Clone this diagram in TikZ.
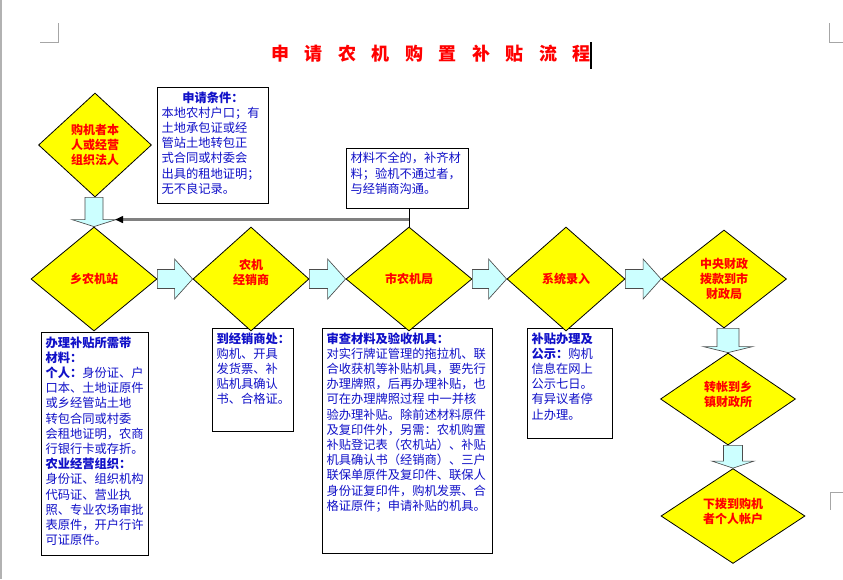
\documentclass[tikz,border=0pt]{standalone}
\usepackage{fontspec}
\setmainfont{Noto Sans CJK SC}
\usetikzlibrary{shapes.geometric,calc,arrows.meta}
\definecolor{dyellow}{HTML}{FFFF00}
\definecolor{acyan}{HTML}{CCFFFF}
\definecolor{tblue}{HTML}{1010C8}
\definecolor{tred}{HTML}{FF0000}
\newcommand\bx[3]{\parbox[c][#2][t]{#1}{\fontsize{9.2pt}{11.4pt}\selectfont\raggedright #3}}
\newcommand\ctr[1]{\makebox[\linewidth]{#1}}
\newcommand\harr[2]{%
  \draw[blk] let \p1=(#1.east), \p2=(#2.west) in
    (\x1,{\y1+7.1pt}) -- ({\x2-13.5pt},{\y1+7.1pt}) -- ({\x2-13.5pt},{\y1+15pt})
    -- (\x2,\y1) -- ({\x2-13.5pt},{\y1-15pt}) -- ({\x2-13.5pt},{\y1-7.1pt})
    -- (\x1,{\y1-7.1pt}) -- cycle;}
\newcommand\varr[5]{%
  \draw[blk] let \p1=(#1.south), \p2=(#2.north) in
    ({\x2-#3},\y1) -- ({\x2-#3},{\y2+#5}) -- ({\x2-#4},{\y2+#5}) -- (\x2,\y2)
    -- ({\x2+#4},{\y2+#5}) -- ({\x2+#3},{\y2+#5}) -- ({\x2+#3},\y1) -- cycle;}
\begin{document}
\begin{tikzpicture}[x=0.75pt,y=-0.75pt,
  dia/.style={diamond, draw=black, line width=0.6pt, fill=dyellow, inner sep=0pt,
    text=tred, font=\fontsize{9pt}{11.25pt}\selectfont\bfseries, align=center},
  tbox/.style={draw=black, line width=0.75pt, fill=white, inner xsep=3pt, inner ysep=3pt,
    text=tblue, anchor=north west},
  blk/.style={draw=black!70, fill=acyan, line width=0.5pt},
  fb/.style={draw=gray, line width=1.9pt, -{Triangle[length=6pt,width=5pt,color=black]}},
  cornermark/.style={draw=gray!70, line width=0.6pt}]
\useasboundingbox[fill=white] (0,0) rectangle (843,579);
% page marks
\draw[gray!60, line width=1.2pt] (1,0) -- (1,579);
\draw[cornermark] (40,42) -- (58,42) -- (58,23);
\draw[cornermark] (829,23) -- (829,42) -- (843,42);
\draw[cornermark] (843,492) -- (830,492) -- (830,510);
% title
\node[text=tred, font=\fontsize{13.5pt}{16pt}\selectfont\bfseries, inner sep=0pt] (title) at (431,54)
  {申\hspace{11.6pt}请\hspace{11.6pt}农\hspace{11.6pt}机\hspace{11.6pt}购\hspace{11.6pt}置\hspace{11.6pt}补\hspace{11.6pt}贴\hspace{11.6pt}流\hspace{11.6pt}程};
\draw[line width=0.9pt] (591,42) -- (591,69);
% text boxes
\node[tbox] (b1) at (157,87) {\bx{77.25pt}{81pt}{\ctr{\bfseries 申请条件：}\\本地农村户口；有\\土地承包证或经\\管站土地转包正\\式合同或村委会\\出具的租地证明；\\无不良记录。}};
\node[tbox] (b2) at (346,148) {\bx{85.5pt}{39pt}{材料不全的，补齐材\\料；验机不通过者，\\与经销商沟通。}};
\node[tbox] (b3) at (41,332) {\bx{74.25pt}{161.25pt}{{\bfseries 办理补贴所需带}\\{\bfseries 材料：}\\{\bfseries 个人：}身份证、户\\口本、土地证原件\\或乡经管站土地\\转包合同或村委\\会租地证明，农商\\行银行卡或存折。\\{\bfseries 农业经营组织：}\\身份证、组织机构\\代码证、营业执\\照、专业农场审批\\表原件，开户行许\\可证原件。}};
\node[tbox] (b4) at (212,328) {\bx{54.75pt}{71.25pt}{{\bfseries 到经销商处：}\\购机、开具\\发货票、补\\贴机具确认\\书、合格证。}};
\node[tbox] (b5) at (322,328) {\bx{121.5pt}{162.75pt}{{\bfseries 审查材料及验收机具：}\\对实行牌证管理的拖拉机、联\\合收获机等补贴机具，要先行\\办理牌照，后再办理补贴，也\\可在办理牌照过程 中一并核\\验办理补贴。除前述材料原件\\及复印件外，另需：农机购置\\补贴登记表（农机站）、补贴\\机具确认书（经销商）、三户\\联保单原件及复印件、联保人\\身份证复印件，购机发票、合\\格证原件；申请补贴的机具。}};
\node[tbox] (b6) at (527,328) {\bx{57.75pt}{76.5pt}{{\bfseries 补贴办理及}\\{\bfseries 公示：}购机\\信息在网上\\公示七日。\\有异议者停\\止办理。}};
% diamonds
\node[dia, minimum width=84.75pt, minimum height=78pt] (D0) at (95,145) {购机者本\\人或经营\\组织法人};
\node[dia, minimum width=94.5pt, minimum height=78pt] (D1) at (94,279) {乡农机站};
\node[dia, minimum width=87pt, minimum height=78pt] (D2) at (251,279) {农机\\经销商\\\mbox{}};
\node[dia, minimum width=94.5pt, minimum height=78pt] (D3) at (409,279) {市农机局};
\node[dia, minimum width=88.5pt, minimum height=78pt] (D4) at (566,279) {系统录入};
\node[dia, minimum width=93.75pt, minimum height=73.5pt] (D5) at (724,279) {中央财政\\拨款到市\\财政局};
\node[dia, minimum width=101.25pt, minimum height=69pt] (D6) at (728,399) {转帐到乡\\镇财政所\\[-4pt]\mbox{}};
\node[dia, minimum width=108pt, minimum height=70.5pt] (D7) at (733,516) {下拨到购机\\者个人帐户\\[-4pt]\mbox{}};
% block arrows
\varr{D0}{D1}{6.75pt}{16.5pt}{5.25pt}
\harr{D1}{D2}
\harr{D2}{D3}
\harr{D3}{D4}
\harr{D4}{D5}
\varr{D5}{D6}{8.25pt}{18.4pt}{4.5pt}
\varr{D6}{D7}{7.1pt}{15.75pt}{5.25pt}
% feedback
\draw[line width=0.7pt] (b2.south -| D3.north) -- (D3.north);
\coordinate (fbj) at ($(b2.south -| D3.north)!0.6!(D3.north)$);
\coordinate (fbe) at (115,220);
\draw[fb] (fbj) -- (fbj -| fbe);
\end{tikzpicture}
\end{document}
